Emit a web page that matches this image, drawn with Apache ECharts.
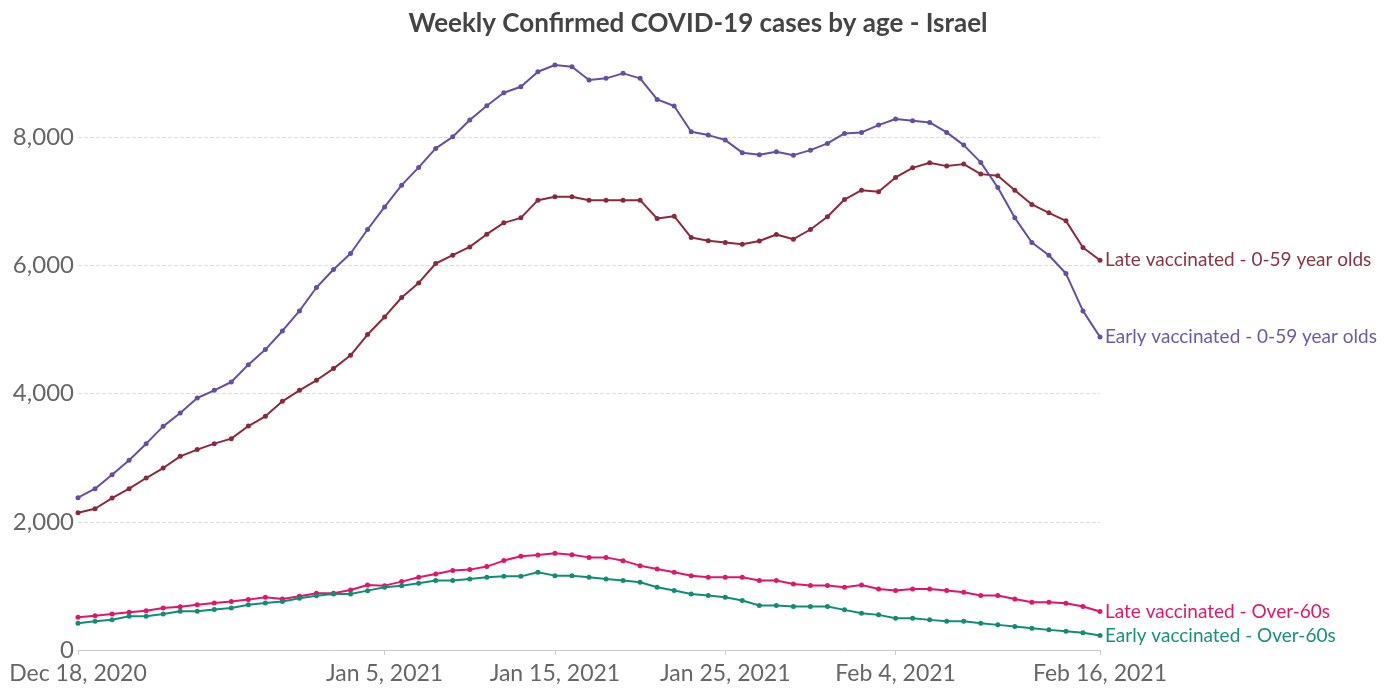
<!DOCTYPE html>
<html>
<head>
<meta charset="utf-8">
<title>Weekly Confirmed COVID-19 cases by age - Israel</title>
<script src="https://cdn.jsdelivr.net/npm/echarts@6/dist/echarts.min.js"></script>
<style>
  html, body { margin: 0; padding: 0; background: #fff; }
  #chart { width: 1396px; height: 688px; }
</style>
</head>
<body>
<div id="chart"></div>
<script>
// daily points, Dec 18, 2020 -> Feb 16, 2021
const startDate = new Date(2020, 11, 18)
const dayCount = 61
const monthNames = ['Jan', 'Feb', 'Mar', 'Apr', 'May', 'Jun', 'Jul', 'Aug', 'Sep', 'Oct', 'Nov', 'Dec']
const categories = []
for (let i = 0; i < dayCount; i++) {
  const d = new Date(startDate.getFullYear(), startDate.getMonth(), startDate.getDate() + i)
  categories.push(monthNames[d.getMonth()] + ' ' + d.getDate() + ', ' + d.getFullYear())
}

const tickLabels = ['Dec 18, 2020', 'Jan 5, 2021', 'Jan 15, 2021', 'Jan 25, 2021', 'Feb 4, 2021', 'Feb 16, 2021']

const lateYoung = [
  2142, 2204, 2370, 2517, 2683, 2839, 3021, 3126, 3219, 3297,
  3494, 3646, 3880, 4051, 4208, 4390, 4598, 4921, 5196, 5499,
  5727, 6030, 6159, 6289, 6487, 6664, 6742, 7018, 7070, 7070,
  7018, 7018, 7018, 7018, 6732, 6768, 6435, 6383, 6357, 6331,
  6380, 6482, 6409, 6560, 6758, 7028, 7174, 7148, 7372, 7522,
  7601, 7549, 7580, 7424, 7398, 7174, 6951, 6820, 6695, 6279,
  6081
]
const earlyYoung = [
  2376, 2517, 2735, 2959, 3219, 3489, 3697, 3931, 4051, 4181,
  4452, 4687, 4977, 5290, 5655, 5936, 6186, 6560, 6913, 7252,
  7529, 7825, 8006, 8267, 8490, 8693, 8787, 9021, 9126, 9099,
  8891, 8918, 8996, 8918, 8590, 8486, 8084, 8033, 7955, 7759,
  7725, 7772, 7720, 7798, 7903, 8059, 8075, 8189, 8283, 8256,
  8231, 8075, 7877, 7607, 7216, 6742, 6357, 6159, 5873, 5290,
  4884
]
const lateOld = [
  510, 535, 562, 588, 614, 656, 676, 707, 733, 755,
  786, 823, 796, 838, 885, 885, 937, 1015, 1004, 1067,
  1134, 1186, 1239, 1254, 1301, 1395, 1462, 1483, 1509, 1487,
  1445, 1445, 1394, 1316, 1264, 1212, 1160, 1134, 1134, 1134,
  1083, 1083, 1031, 1005, 1005, 978, 1015, 953, 927, 953,
  953, 927, 901, 849, 849, 797, 745, 745, 729, 678,
  600
]
const earlyOld = [
  416, 447, 473, 526, 526, 562, 603, 603, 630, 656,
  707, 733, 755, 806, 848, 874, 874, 926, 978, 1004,
  1041, 1083, 1083, 1109, 1134, 1149, 1149, 1213, 1160, 1160,
  1134, 1109, 1083, 1056, 978, 927, 875, 849, 822, 771,
  693, 693, 678, 678, 678, 626, 574, 548, 496, 496,
  470, 449, 449, 418, 392, 366, 340, 314, 293, 268,
  226
]

const fontFamily = 'Lato, "Noto Sans", sans-serif'

function makeSeries(name, data, color, labelColor) {
  return {
    name: name,
    type: 'line',
    data: data,
    symbol: 'circle',
    symbolSize: 5,
    showSymbol: true,
    lineStyle: { color: color, width: 2 },
    itemStyle: { color: color },
    endLabel: {
      show: true,
      formatter: '{a}',
      color: labelColor,
      fontSize: 19,
      fontFamily: fontFamily,
      distance: 5
    },
    z: 3
  }
}

const chart = echarts.init(document.getElementById('chart'))
chart.setOption({
  animation: false,
  title: {
    text: 'Weekly Confirmed COVID-19 cases by age - Israel',
    left: 'center',
    top: 6,
    textStyle: {
      color: '#444',
      fontSize: 26,
      fontWeight: 'bold',
      fontFamily: fontFamily
    }
  },
  grid: {
    left: 78,
    right: 296,
    top: 9,
    bottom: 38
  },
  xAxis: {
    type: 'category',
    boundaryGap: false,
    data: categories,
    axisLine: { show: true, lineStyle: { color: '#ccc', width: 1 } },
    axisTick: {
      show: true,
      length: 5,
      lineStyle: { color: '#ccc' },
      interval: function (index, value) { return tickLabels.indexOf(value) > -1 }
    },
    axisLabel: {
      color: '#666',
      fontSize: 23,
      fontFamily: fontFamily,
      margin: 12,
      interval: function (index, value) { return tickLabels.indexOf(value) > -1 }
    },
    splitLine: { show: false }
  },
  yAxis: {
    type: 'value',
    min: 0,
    max: 10000,
    interval: 2000,
    axisLine: { show: false },
    axisTick: { show: false },
    axisLabel: {
      color: '#666',
      fontSize: 24,
      fontFamily: fontFamily,
      margin: 4,
      showMaxLabel: false,
      formatter: function (v) { return v.toLocaleString('en-US') }
    },
    splitLine: {
      show: true,
      lineStyle: {
        color: ['#ddd', '#ddd', '#ddd', '#ddd', '#ddd', 'rgba(0,0,0,0)'],
        type: 'dashed'
      }
    }
  },
  series: [
    makeSeries('Late vaccinated - 0-59 year olds', lateYoung, '#8b2a3d', '#8a3445'),
    makeSeries('Early vaccinated - 0-59 year olds', earlyYoung, '#654ea3', '#6d5aa8'),
    makeSeries('Late vaccinated - Over-60s', lateOld, '#e0156b', '#e0186c'),
    makeSeries('Early vaccinated - Over-60s', earlyOld, '#118d77', '#18907e')
  ]
})
</script>
</body>
</html>
